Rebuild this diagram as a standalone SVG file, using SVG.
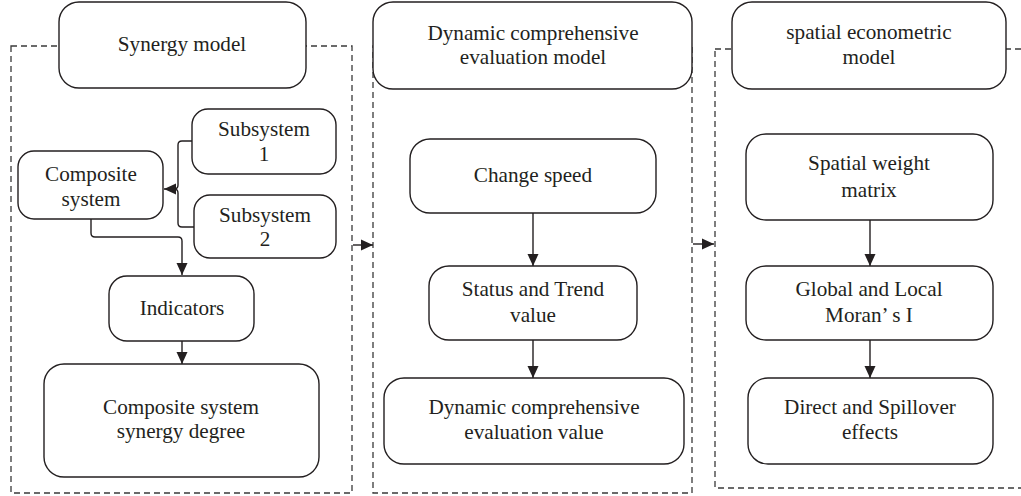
<svg xmlns="http://www.w3.org/2000/svg" width="1021" height="496" viewBox="0 0 1021 496">
<style>
.frame{fill:none;stroke:#3a3a3a;stroke-width:1.3;stroke-dasharray:6 4}
.box{fill:#fff;stroke:#231f20;stroke-width:1.4}
.t{font-family:"Liberation Serif",serif;font-size:21.2px;fill:#231f20;text-anchor:middle;dominant-baseline:central}
.ln{fill:none;stroke:#231f20;stroke-width:1.4}
</style>
<defs>
<marker id="ah" markerUnits="userSpaceOnUse" markerWidth="13" markerHeight="13" viewBox="0 0 13 13" refX="12" refY="6.5" orient="auto">
<path d="M0,1 L12,6.5 L0,12 Z" fill="#231f20"/>
</marker>
</defs>
<g id="frames">
<rect class="frame" x="11" y="46" width="341" height="447"/>
<rect class="frame" x="373" y="46" width="319" height="447"/>
<rect class="frame" x="715" y="49" width="320" height="439"/>
</g>
<g id="connectors">
<path class="ln" d="M192,141 H182 Q178,141 178,145 V185 Q178,189 174,189 H164" marker-end="url(#ah)"/>
<path class="ln" d="M194,227 H182 Q178,227 178,223 V193 Q178,189 174,189"/>
<path class="ln" d="M91,219 V233 Q91,237 95,237 H178 Q182,237 182,241 V275" marker-end="url(#ah)"/>
<path class="ln" d="M182,341 V364" marker-end="url(#ah)"/>
<path class="ln" d="M533,213 V266" marker-end="url(#ah)"/>
<path class="ln" d="M533,340 V378" marker-end="url(#ah)"/>
<path class="ln" d="M870,220 V266" marker-end="url(#ah)"/>
<path class="ln" d="M870,340 V378" marker-end="url(#ah)"/>
<path class="ln" d="M353,245 H373" marker-end="url(#ah)"/>
<path class="ln" d="M693,244 H714" marker-end="url(#ah)"/>
</g>
<g id="synergy-model"><rect class="box" x="59" y="2" width="247" height="86" rx="20"/><text class="t" x="182" y="44">Synergy model</text></g>
<g id="dynamic-model"><rect class="box" x="373" y="2" width="319" height="87" rx="20"/><text class="t" x="533" y="33">Dynamic comprehensive</text><text class="t" x="533" y="57">evaluation model</text></g>
<g id="spatial-model"><rect class="box" x="732" y="2" width="274" height="87" rx="20"/><text class="t" x="869" y="32">spatial econometric</text><text class="t" x="869" y="57">model</text></g>
<g id="subsystem1"><rect class="box" x="192" y="109" width="144" height="65" rx="16"/><text class="t" x="264" y="129">Subsystem</text><text class="t" x="264" y="154">1</text></g>
<g id="composite-system"><rect class="box" x="18" y="151" width="145" height="68" rx="16"/><text class="t" x="91" y="174">Composite</text><text class="t" x="91" y="199">system</text></g>
<g id="subsystem2"><rect class="box" x="194" y="195" width="142" height="63" rx="16"/><text class="t" x="265" y="215">Subsystem</text><text class="t" x="265" y="239">2</text></g>
<g id="indicators"><rect class="box" x="109" y="276" width="145" height="65" rx="18"/><text class="t" x="182" y="308">Indicators</text></g>
<g id="synergy-degree"><rect class="box" x="44" y="364" width="275" height="113" rx="20"/><text class="t" x="181" y="407">Composite system</text><text class="t" x="181" y="431">synergy degree</text></g>
<g id="change-speed"><rect class="box" x="410" y="139" width="246" height="74" rx="20"/><text class="t" x="533" y="175">Change speed</text></g>
<g id="status-trend"><rect class="box" x="429" y="266" width="208" height="74" rx="20"/><text class="t" x="533" y="289">Status and Trend</text><text class="t" x="533" y="315">value</text></g>
<g id="dynamic-value"><rect class="box" x="384" y="378" width="300" height="86" rx="20"/><text class="t" x="534" y="407">Dynamic comprehensive</text><text class="t" x="534" y="432">evaluation value</text></g>
<g id="spatial-weight"><rect class="box" x="746" y="134" width="247" height="86" rx="20"/><text class="t" x="869" y="163">Spatial weight</text><text class="t" x="869" y="190">matrix</text></g>
<g id="moran"><rect class="box" x="746" y="266" width="247" height="74" rx="20"/><text class="t" x="869" y="289">Global and Local</text><text class="t" x="869" y="315">Moran’ s I</text></g>
<g id="spillover"><rect class="box" x="748" y="378" width="245" height="86" rx="20"/><text class="t" x="870" y="407">Direct and Spillover</text><text class="t" x="870" y="432">effects</text></g>
</svg>
